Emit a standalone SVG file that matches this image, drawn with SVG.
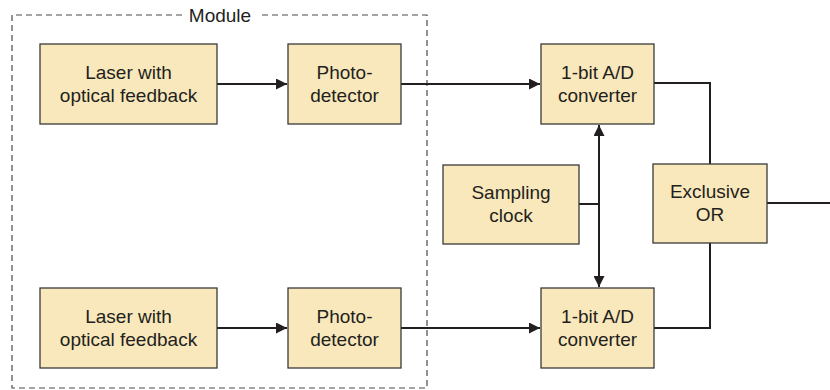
<svg xmlns="http://www.w3.org/2000/svg" width="830" height="390" viewBox="0 0 830 390">
<defs>
<style>
.box{fill:#f9e8bb;stroke:#3a3a3a;stroke-width:1.3}
.t{font-family:"Liberation Sans",Arial,sans-serif;font-size:19px;fill:#231f20;text-anchor:middle}
.w{fill:none;stroke:#231f20;stroke-width:2}
.d{fill:none;stroke:#4a4a4a;stroke-width:1.2;stroke-dasharray:6,4}
</style>
<marker id="ah" viewBox="0 0 10 10" refX="10" refY="5" markerWidth="5.5" markerHeight="5.5" markerUnits="strokeWidth" orient="auto">
<path d="M0,0 L10,5 L0,10 z" fill="#231f20"/>
</marker>
</defs>
<rect width="830" height="390" fill="#fff"/>
<g id="module">
<path class="d" d="M182,15 H12 V388 H427 V15 H258"/>
<text class="t" x="220" y="22">Module</text>
</g>
<g id="connectors">
<path class="w" d="M217,84 H287" marker-end="url(#ah)"/>
<path class="w" d="M401,84 H540" marker-end="url(#ah)"/>
<path class="w" d="M217,328 H287" marker-end="url(#ah)"/>
<path class="w" d="M401,328 H540" marker-end="url(#ah)"/>
<path class="w" d="M579,204 H599"/>
<path class="w" d="M599,204 V125" marker-end="url(#ah)"/>
<path class="w" d="M599,204 V287" marker-end="url(#ah)"/>
<path class="w" d="M654,83 H710 V164"/>
<path class="w" d="M654,328 H710 V243"/>
<path class="w" d="M767,203 H830"/>
</g>
<g id="laser1"><rect class="box" x="40" y="44" width="177" height="80"/>
<text class="t" x="128.5" y="79">Laser with</text><text class="t" x="128.5" y="102">optical feedback</text></g>
<g id="photo1"><rect class="box" x="288" y="44" width="113" height="80"/>
<text class="t" x="344.5" y="79">Photo-</text><text class="t" x="344.5" y="102">detector</text></g>
<g id="ad1"><rect class="box" x="541" y="44" width="113" height="80"/>
<text class="t" x="597.5" y="79">1-bit A/D</text><text class="t" x="597.5" y="102">converter</text></g>
<g id="clock"><rect class="box" x="443" y="165" width="136" height="79"/>
<text class="t" x="511" y="199">Sampling</text><text class="t" x="511" y="222">clock</text></g>
<g id="xor"><rect class="box" x="653" y="164" width="114" height="79"/>
<text class="t" x="710" y="198">Exclusive</text><text class="t" x="710" y="221">OR</text></g>
<g id="laser2"><rect class="box" x="40" y="288" width="177" height="80"/>
<text class="t" x="128.5" y="323">Laser with</text><text class="t" x="128.5" y="346">optical feedback</text></g>
<g id="photo2"><rect class="box" x="288" y="288" width="113" height="80"/>
<text class="t" x="344.5" y="323">Photo-</text><text class="t" x="344.5" y="346">detector</text></g>
<g id="ad2"><rect class="box" x="541" y="288" width="113" height="80"/>
<text class="t" x="597.5" y="323">1-bit A/D</text><text class="t" x="597.5" y="346">converter</text></g>
</svg>
